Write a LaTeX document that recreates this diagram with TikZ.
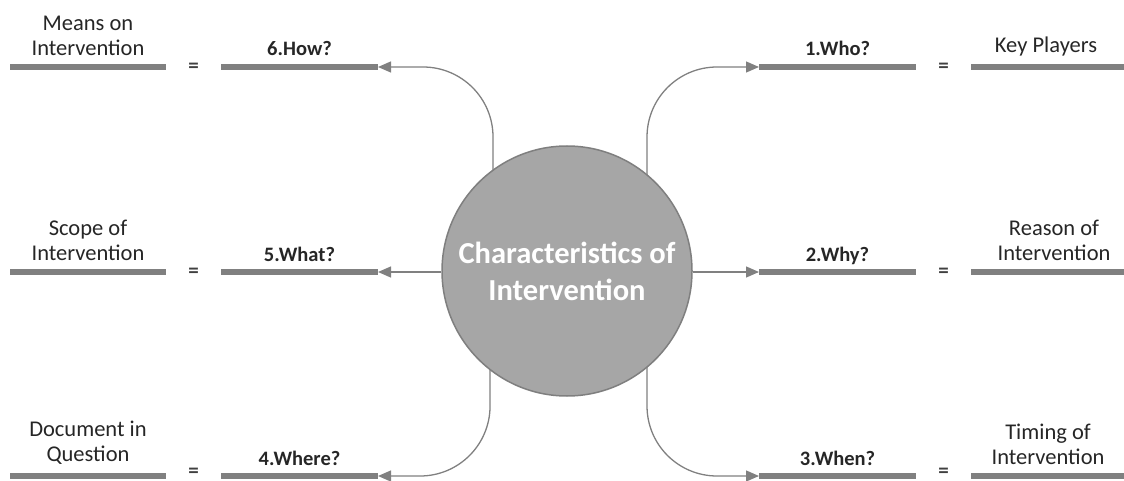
\documentclass[tikz,border=0pt]{standalone}
\usepackage{fontspec}
\setmainfont{Carlito}
\usetikzlibrary{arrows.meta}
\definecolor{bargray}{HTML}{808080}
\definecolor{circfill}{HTML}{A6A6A6}
\definecolor{circline}{HTML}{7F7F7F}
\definecolor{txt}{HTML}{262626}
\definecolor{eqc}{HTML}{404040}
\begin{document}
\begin{tikzpicture}[x=1pt,y=-1pt,
  bar/.style={line width=5.5pt,draw=bargray},
  conn/.style={draw=bargray,line width=1.3pt,-{Triangle[length=13pt,width=11pt]}},
  lbl/.style={font=\fontsize{20.5}{25}\selectfont\bfseries,text=txt,anchor=base,inner sep=0},
  desc/.style={font=\fontsize{22.5}{25.5}\selectfont,text=txt,align=center,anchor=south,inner sep=0},
  eqs/.style={font=\fontsize{21}{25}\selectfont\bfseries,text=eqc,inner sep=0},
  hub/.style={circle,fill=circfill,draw=circline,line width=1.5pt,minimum size=250pt,inner sep=0,text=white,font=\fontsize{30.5}{37}\selectfont\bfseries,align=center}]
\useasboundingbox (0,0) rectangle (1124,481);

% bar end points
\foreach \r/\y/\e in {1/67/68,2/272/273,3/476/472.5}{
  \coordinate (LO\r a) at (10,\y);  \coordinate (LO\r b) at (166,\y);
  \coordinate (LI\r a) at (221,\y); \coordinate (LI\r b) at (378,\y);
  \coordinate (RI\r a) at (759,\y); \coordinate (RI\r b) at (916,\y);
  \coordinate (RO\r a) at (971,\y); \coordinate (RO\r b) at (1124,\y);
  \draw[bar] (LO\r a) -- (LO\r b);
  \draw[bar] (LI\r a) -- (LI\r b);
  \draw[bar] (RI\r a) -- (RI\r b);
  \draw[bar] (RO\r a) -- (RO\r b);
  \node[eqs] (eqL\r) at (193.5,\e) {=};
  \node[eqs] (eqR\r) at (943.5,\e) {=};
}

% connectors
\draw[conn,rounded corners=70pt] (567,271) ++(126.3:125) coordinate (s6) |- (LI1b);
\draw[conn,rounded corners=70pt] (567,271) ++(50.2:125) coordinate (s1) |- (RI1a);
\draw[conn,rounded corners=70pt] (567,271) ++(232:125) coordinate (s4) |- (LI3b);
\draw[conn,rounded corners=70pt] (567,271) ++(309.8:125) coordinate (s3) |- (RI3a);

\node[hub] (hub) at (567,271) {Characteristics of\\Intervention};
\draw[conn] (hub.west |- LI2b) -- (LI2b);
\draw[conn] (hub.east |- RI2a) -- (RI2a);

% question labels
\node[lbl] (q6) at (299.5,56) {6.How?};
\node[lbl] (q5) at (299.5,261) {5.What?};
\node[lbl] (q4) at (299.5,465) {4.Where?};
\node[lbl] (q1) at (837.5,56) {1.Who?};
\node[lbl] (q2) at (837.5,261) {2.Why?};
\node[lbl] (q3) at (837.5,465) {3.When?};

% descriptions
\node[desc] (a6) at (88,56) {Means on\\Intervention};
\node[desc] (a5) at (88,261) {Scope of\\Intervention};
\node[desc] (a4) at (88,465) {Document in\\Question};
\node[desc] (a1) at (1046,56) {Key Players};
\node[desc] (a2) at (1054,261) {Reason of\\Intervention};
\node[desc] (a3) at (1048,465) {Timing of\\Intervention};
\end{tikzpicture}
\end{document}
